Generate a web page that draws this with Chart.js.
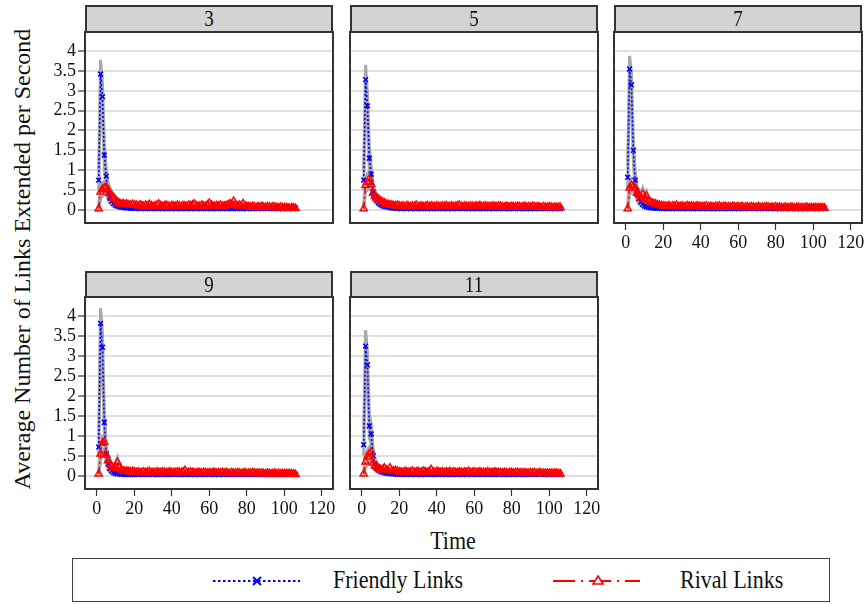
<!DOCTYPE html>
<html><head><meta charset="utf-8">
<script src="https://cdn.jsdelivr.net/npm/chart.js@4.4.1/dist/chart.umd.min.js"></script>
<style>
body{margin:0;width:868px;height:604px;background:#fff;position:relative;overflow:hidden;font-family:"Liberation Serif","DejaVu Serif",serif;color:#111;}
.hdr{position:absolute;background:#d3d3d3;border:2px solid #333;box-sizing:border-box;text-align:center;font-size:19px;}
.hdr span{display:inline-block;transform:scaleY(1.2);}
canvas{position:absolute;}
#ytitle{position:absolute;width:520px;height:30px;line-height:30px;left:-238px;top:244px;text-align:center;font-size:24px;transform:rotate(-90deg);}
#xtitle{position:absolute;left:403px;width:100px;top:526px;height:30px;line-height:30px;text-align:center;font-size:22px;transform:scaleY(1.15);}
#legend{position:absolute;left:72px;top:558px;width:758px;height:44px;border:1px solid #444;box-sizing:border-box;}
.ltxt{position:absolute;top:8px;font-size:22px;line-height:26px;transform:scaleY(1.15);}
</style></head>
<body>
<div id="ytitle">Average Number of Links Extended per Second</div>
<div id="xtitle">Time</div>
<div id="legend">
<svg width="758" height="44" style="position:absolute;left:-1px;top:-1px">
<line x1="141" y1="23" x2="228" y2="23" stroke="#0000ff" stroke-width="2" stroke-dasharray="2.5,2.5"/>
<line x1="181" y1="19" x2="189" y2="27" stroke="#0000ff" stroke-width="2"/>
<line x1="181" y1="27" x2="189" y2="19" stroke="#0000ff" stroke-width="2"/>
<line x1="481" y1="23" x2="568" y2="23" stroke="#ff0000" stroke-width="2" stroke-dasharray="22,6,2,6"/>
<polygon points="526,18 531,26 521,26" fill="#fff" stroke="#ff0000" stroke-width="1.6"/>
</svg>
<span class="ltxt" style="left:260px">Friendly Links</span>
<span class="ltxt" style="left:607px">Rival Links</span>
</div>
<script>
const panelLabels = ['3','5','7','9','11'];
const yTicks = [0,0.5,1,1.5,2,2.5,3,3.5,4];
const yTickLabels = ['0','.5','1','1.5','2','2.5','3','3.5','4'];
const xTicks = [0,20,40,60,80,100,120];
const time = [1,2,3,4,5,6,7,8,9,10,11,12,13,14,15,16,17,18,19,20,21,22,23,24,25,26,27,28,29,30,31,32,33,34,35,36,37,38,39,40,41,42,43,44,45,46,47,48,49,50,51,52,53,54,55,56,57,58,59,60,61,62,63,64,65,66,67,68,69,70,71,72,73,74,75,76,77,78,79,80,81,82,83,84,85,86,87,88,89,90,91,92,93,94,95,96,97,98,99,100,101,102,103,104,105,106];

// Friendly links (means)
const friendly3 = [0.75,3.42,2.85,1.38,0.85,0.42,0.3,0.22,0.16,0.12,0.1,0.08,0.07,0.06,0.06,0.05,0.05,0.04,0.05,0.04,
0.04,0.05,0.03,0.04,0.05,0.03,0.04,0.04,0.03,0.05,0.04,0.03,0.04,0.05,0.03,0.04,0.03,0.05,0.04,0.03,
0.04,0.03,0.05,0.04,0.03,0.04,0.05,0.03,0.04,0.03,0.04,0.05,0.03,0.04,0.04,0.03,0.05,0.04,0.03,0.04,
0.03,0.05,0.04,0.03,0.04,0.05,0.03,0.04,0.03,0.04,0.05,0.03,0.04,0.04,0.03,0.05,0.04,0.03,0.04,0.03,
0.05,0.04,0.03,0.04,0.05,0.03,0.04,0.03,0.04,0.05,0.03,0.04,0.04,0.03,0.05,0.04,0.03,0.04,0.03,0.05,
0.04,0.03,0.04,0.05,0.03,0.04];
const friendly5 = [0.75,3.28,2.62,1.3,0.9,0.45,0.32,0.24,0.18,0.14,0.11,0.09,0.08,0.07,0.06,0.05,0.05,0.04,0.04,0.04,
0.03,0.04,0.05,0.03,0.04,0.03,0.05,0.04,0.03,0.04,0.04,0.03,0.05,0.04,0.03,0.04,0.03,0.04,0.05,0.03,
0.04,0.04,0.03,0.05,0.04,0.03,0.04,0.03,0.05,0.04,0.03,0.04,0.04,0.03,0.05,0.04,0.03,0.04,0.03,0.05,
0.04,0.03,0.04,0.04,0.03,0.05,0.04,0.03,0.04,0.03,0.05,0.04,0.03,0.04,0.04,0.03,0.05,0.04,0.03,0.04,
0.03,0.04,0.05,0.03,0.04,0.04,0.03,0.05,0.04,0.03,0.04,0.03,0.05,0.04,0.03,0.04,0.04,0.03,0.05,0.04,
0.03,0.04,0.03,0.05,0.04,0.03];
const friendly7 = [0.82,3.55,3.15,1.5,0.75,0.42,0.28,0.2,0.14,0.1,0.08,0.07,0.06,0.05,0.05,0.04,0.04,0.05,0.04,0.03,
0.04,0.03,0.04,0.05,0.03,0.04,0.03,0.04,0.05,0.03,0.04,0.04,0.03,0.05,0.04,0.03,0.04,0.03,0.05,0.04,
0.03,0.04,0.04,0.03,0.05,0.04,0.03,0.04,0.03,0.05,0.04,0.03,0.04,0.04,0.03,0.05,0.04,0.03,0.04,0.03,
0.05,0.04,0.03,0.04,0.04,0.03,0.05,0.04,0.03,0.04,0.03,0.05,0.04,0.03,0.04,0.04,0.03,0.05,0.04,0.03,
0.04,0.03,0.05,0.04,0.03,0.04,0.04,0.03,0.05,0.04,0.03,0.04,0.03,0.05,0.04,0.03,0.04,0.04,0.03,0.05,
0.04,0.03,0.04,0.03,0.05,0.04];
const friendly9 = [0.72,3.82,3.22,1.34,0.55,0.3,0.18,0.12,0.08,0.06,0.05,0.05,0.04,0.04,0.03,0.04,0.03,0.04,0.03,0.03,
0.04,0.03,0.05,0.04,0.03,0.04,0.03,0.04,0.05,0.03,0.04,0.03,0.04,0.03,0.05,0.04,0.03,0.04,0.03,0.04,
0.05,0.03,0.04,0.03,0.04,0.04,0.03,0.05,0.04,0.03,0.04,0.03,0.04,0.05,0.03,0.04,0.03,0.04,0.04,0.03,
0.05,0.04,0.03,0.04,0.03,0.04,0.05,0.03,0.04,0.03,0.04,0.04,0.03,0.05,0.04,0.03,0.04,0.03,0.04,0.05,
0.03,0.04,0.03,0.04,0.04,0.03,0.05,0.04,0.03,0.04,0.03,0.04,0.05,0.03,0.04,0.03,0.04,0.04,0.03,0.05,
0.04,0.03,0.04,0.03,0.04,0.03];
const friendly11 = [0.78,3.25,2.78,1.25,1.05,0.5,0.3,0.2,0.15,0.12,0.1,0.08,0.07,0.06,0.06,0.05,0.05,0.04,0.04,0.04,
0.05,0.04,0.03,0.04,0.05,0.03,0.04,0.04,0.03,0.05,0.04,0.03,0.04,0.03,0.05,0.04,0.03,0.04,0.04,0.03,
0.05,0.04,0.03,0.04,0.03,0.05,0.04,0.03,0.04,0.04,0.03,0.05,0.04,0.03,0.04,0.03,0.05,0.04,0.03,0.04,
0.04,0.03,0.05,0.04,0.03,0.04,0.03,0.05,0.04,0.03,0.04,0.04,0.03,0.05,0.04,0.03,0.04,0.03,0.05,0.04,
0.03,0.04,0.04,0.03,0.05,0.04,0.03,0.04,0.03,0.05,0.04,0.03,0.04,0.04,0.03,0.05,0.04,0.03,0.04,0.03,
0.05,0.04,0.03,0.04,0.04,0.03];

// Rival links (means)
const rival3 = [0.03,0.45,0.52,0.55,0.58,0.5,0.42,0.35,0.3,0.25,0.2,0.17,0.15,0.16,0.14,0.15,0.13,0.12,0.14,0.12,
0.12,0.1,0.13,0.11,0.09,0.12,0.1,0.14,0.11,0.09,0.1,0.12,0.15,0.11,0.09,0.1,0.12,0.1,0.08,0.11,
0.1,0.09,0.12,0.1,0.08,0.11,0.1,0.09,0.12,0.1,0.13,0.15,0.11,0.09,0.1,0.12,0.1,0.09,0.13,0.17,
0.12,0.1,0.09,0.11,0.1,0.12,0.09,0.1,0.11,0.13,0.16,0.12,0.22,0.13,0.1,0.12,0.11,0.16,0.1,0.09,
0.08,0.07,0.09,0.08,0.06,0.08,0.07,0.09,0.07,0.06,0.08,0.07,0.06,0.08,0.07,0.06,0.05,0.07,0.06,0.05,
0.06,0.05,0.04,0.06,0.05,0.04];
const rival5 = [0.03,0.62,0.7,0.78,0.65,0.42,0.35,0.3,0.26,0.22,0.2,0.18,0.15,0.14,0.13,0.12,0.11,0.1,0.12,0.1,
0.09,0.1,0.08,0.11,0.09,0.08,0.1,0.09,0.12,0.08,0.09,0.1,0.08,0.09,0.11,0.08,0.1,0.09,0.08,0.1,
0.09,0.08,0.1,0.09,0.11,0.08,0.09,0.1,0.08,0.09,0.1,0.12,0.09,0.08,0.1,0.09,0.08,0.1,0.09,0.08,
0.1,0.09,0.11,0.08,0.09,0.1,0.08,0.09,0.08,0.1,0.09,0.08,0.1,0.09,0.08,0.07,0.09,0.08,0.07,0.09,
0.08,0.07,0.09,0.08,0.07,0.08,0.09,0.07,0.08,0.07,0.09,0.08,0.07,0.08,0.07,0.06,0.08,0.07,0.06,0.08,
0.07,0.06,0.07,0.06,0.07,0.06];
const rival7 = [0.03,0.55,0.62,0.6,0.55,0.42,0.38,0.3,0.4,0.28,0.35,0.24,0.2,0.18,0.16,0.15,0.13,0.12,0.11,0.1,
0.1,0.09,0.11,0.08,0.1,0.09,0.12,0.08,0.09,0.1,0.08,0.09,0.11,0.08,0.1,0.09,0.08,0.1,0.09,0.08,
0.09,0.08,0.1,0.07,0.09,0.08,0.07,0.09,0.08,0.1,0.07,0.08,0.09,0.07,0.08,0.07,0.09,0.08,0.07,0.08,
0.07,0.09,0.06,0.08,0.07,0.06,0.08,0.07,0.06,0.07,0.08,0.06,0.07,0.06,0.08,0.07,0.06,0.07,0.06,0.08,
0.06,0.07,0.06,0.05,0.07,0.06,0.05,0.07,0.06,0.05,0.06,0.07,0.05,0.06,0.05,0.07,0.06,0.05,0.06,0.05,
0.06,0.05,0.06,0.05,0.06,0.05];
const rival9 = [0.05,0.55,0.82,0.85,0.52,0.38,0.3,0.22,0.18,0.22,0.34,0.2,0.15,0.13,0.12,0.12,0.11,0.1,0.11,0.1,
0.09,0.1,0.08,0.09,0.1,0.08,0.09,0.11,0.08,0.09,0.08,0.1,0.09,0.08,0.1,0.09,0.08,0.09,0.1,0.08,
0.09,0.08,0.1,0.09,0.08,0.1,0.14,0.09,0.08,0.1,0.09,0.08,0.07,0.09,0.08,0.07,0.09,0.08,0.07,0.08,
0.07,0.09,0.08,0.07,0.08,0.07,0.09,0.07,0.08,0.07,0.06,0.08,0.07,0.06,0.08,0.07,0.06,0.07,0.08,0.06,
0.07,0.06,0.08,0.07,0.06,0.07,0.06,0.07,0.06,0.05,0.07,0.06,0.05,0.06,0.07,0.05,0.06,0.05,0.06,0.05,
0.06,0.05,0.06,0.05,0.05,0.04];
const rival11 = [0.05,0.35,0.48,0.55,0.6,0.32,0.25,0.22,0.18,0.16,0.15,0.2,0.15,0.14,0.2,0.13,0.12,0.14,0.11,0.1,
0.1,0.09,0.11,0.1,0.09,0.1,0.12,0.09,0.1,0.11,0.09,0.1,0.12,0.1,0.09,0.11,0.16,0.1,0.09,0.11,
0.1,0.09,0.1,0.08,0.1,0.09,0.11,0.08,0.1,0.09,0.08,0.1,0.09,0.08,0.1,0.09,0.11,0.08,0.09,0.1,
0.08,0.09,0.1,0.08,0.09,0.08,0.1,0.09,0.08,0.09,0.1,0.08,0.09,0.08,0.07,0.09,0.08,0.07,0.09,0.08,
0.07,0.08,0.09,0.07,0.08,0.07,0.08,0.07,0.06,0.08,0.07,0.08,0.06,0.07,0.08,0.06,0.07,0.06,0.07,0.06,
0.07,0.06,0.07,0.06,0.06,0.05];

// Confidence bounds (visible part, early periods)
const friendlyUpper3 = [1.0,3.78,3.2,1.7,1.05,0.62,0.44,0.32,0.24,0.18,0.15,0.12];
const friendlyLower3 = [0.5,3.05,2.5,1.05,0.65,0.25,0.17,0.12,0.09,0.07,0.05,0.04];
const rivalUpper3 = [0.12,0.62,0.68,0.72,0.8,0.68,0.56,0.46,0.4,0.33,0.27,0.22];
const rivalLower3 = [0,0.28,0.35,0.38,0.38,0.32,0.28,0.24,0.2,0.17,0.13,0.12];
const friendlyUpper5 = [1.0,3.65,2.95,1.6,1.1,0.65,0.45,0.34,0.26,0.2,0.16,0.13];
const friendlyLower5 = [0.5,2.9,2.3,1.0,0.7,0.25,0.19,0.14,0.1,0.08,0.06,0.05];
const rivalUpper5 = [0.12,0.8,0.9,0.98,0.85,0.58,0.48,0.4,0.35,0.3,0.27,0.24];
const rivalLower5 = [0,0.45,0.5,0.58,0.45,0.26,0.22,0.2,0.17,0.14,0.13,0.12];
const friendlyUpper7 = [1.1,3.88,3.45,1.8,0.95,0.6,0.42,0.3,0.22,0.17,0.13,0.11];
const friendlyLower7 = [0.55,3.2,2.85,1.2,0.55,0.25,0.15,0.1,0.07,0.05,0.04,0.03];
const rivalUpper7 = [0.12,0.72,0.8,0.78,0.72,0.58,0.52,0.42,0.55,0.4,0.48,0.34];
const rivalLower7 = [0,0.38,0.44,0.42,0.38,0.27,0.24,0.18,0.25,0.16,0.22,0.14];
const friendlyUpper9 = [0.95,4.2,3.6,1.65,0.78,0.45,0.3,0.2,0.14,0.1,0.09,0.08];
const friendlyLower9 = [0.5,3.45,2.85,1.05,0.35,0.15,0.08,0.05,0.03,0.02,0.02,0.02];
const rivalUpper9 = [0.14,0.72,1.0,1.02,0.7,0.52,0.42,0.32,0.27,0.32,0.46,0.3];
const rivalLower9 = [0,0.38,0.62,0.68,0.35,0.24,0.18,0.13,0.1,0.13,0.22,0.1];
const friendlyUpper11 = [1.05,3.65,3.1,1.55,1.3,0.7,0.45,0.32,0.24,0.19,0.15,0.12];
const friendlyLower11 = [0.5,2.85,2.45,0.95,0.8,0.3,0.16,0.1,0.07,0.05,0.05,0.04];
const rivalUpper11 = [0.13,0.52,0.65,0.72,0.78,0.45,0.36,0.32,0.27,0.24,0.22,0.28];
const rivalLower11 = [0,0.2,0.3,0.38,0.42,0.2,0.15,0.12,0.1,0.09,0.08,0.12];

const series = [
  {f:friendly3, r:rival3, fu:friendlyUpper3, fl:friendlyLower3, ru:rivalUpper3, rl:rivalLower3},
  {f:friendly5, r:rival5, fu:friendlyUpper5, fl:friendlyLower5, ru:rivalUpper5, rl:rivalLower5},
  {f:friendly7, r:rival7, fu:friendlyUpper7, fl:friendlyLower7, ru:rivalUpper7, rl:rivalLower7},
  {f:friendly9, r:rival9, fu:friendlyUpper9, fl:friendlyLower9, ru:rivalUpper9, rl:rivalLower9},
  {f:friendly11, r:rival11, fu:friendlyUpper11, fl:friendlyLower11, ru:rivalUpper11, rl:rivalLower11}
];

// layout of panels (pixels)
const boxes = [
  {l:85, r:333, ht:5, t:32, b:223, showY:true, showX:false},
  {l:350, r:598, ht:5, t:32, b:223, showY:false, showX:false},
  {l:614, r:862, ht:5, t:32, b:223, showY:false, showX:true},
  {l:85, r:333, ht:271, t:297, b:489, showY:true, showX:true},
  {l:350, r:598, ht:271, t:297, b:489, showY:false, showX:true}
];
const AXW = 70, AXH = 50, PADR = 26, PADT = 20;

const framePlugin = {
  id:'frame',
  afterDraw(chart){
    const {ctx, chartArea:a} = chart;
    ctx.save();
    ctx.strokeStyle = '#333';
    ctx.lineWidth = 2;
    ctx.strokeRect(a.left, a.top, a.right - a.left, a.bottom - a.top);
    ctx.restore();
  }
};

const toXY = arr => arr.map((v,i) => ({x: time[i], y: v}));
const FONT = "'Liberation Serif','DejaVu Serif',serif";

boxes.forEach((bx, i) => {
  const h = document.createElement('div');
  h.className = 'hdr';
  h.style.left = bx.l + 'px';
  h.style.top = bx.ht + 'px';
  h.style.width = (bx.r - bx.l) + 'px';
  h.style.height = (bx.t - bx.ht + 1) + 'px';
  h.style.lineHeight = (bx.t - bx.ht - 3) + 'px';
  const sp = document.createElement('span');
  sp.textContent = panelLabels[i];
  h.appendChild(sp);
  document.body.appendChild(h);

  const c = document.createElement('canvas');
  const W = AXW + (bx.r - bx.l) + PADR, H = PADT + (bx.b - bx.t) + AXH;
  c.width = W; c.height = H;
  c.style.width = W + 'px'; c.style.height = H + 'px';
  c.style.left = (bx.l - AXW) + 'px';
  c.style.top = (bx.t - PADT) + 'px';
  document.body.appendChild(c);

  const s = series[i];
  const grayDs = arr => ({data: toXY(arr), borderColor:'#a8a8a8', borderWidth:3, pointRadius:0, order:3, tension:0});
  new Chart(c, {
    type:'line',
    data:{datasets:[
      grayDs(s.fu), grayDs(s.fl), grayDs(s.ru), grayDs(s.rl),
      {label:'Friendly Links', data: toXY(s.f), borderColor:'#0000ff', borderWidth:1.6, borderDash:[2,2],
       pointStyle:'crossRot', pointRadius:3.4, pointBorderColor:'#0000ff', pointBorderWidth:1.6, pointBackgroundColor:'#0000ff', order:1, tension:0},
      {label:'Rival Links', data: toXY(s.r), borderColor:'#ff0000', borderWidth:1.6, borderDash:[7,3,2,3],
       pointStyle:'triangle', pointRadius:4.2, pointBorderColor:'#ff0000', pointBorderWidth:1.4, pointBackgroundColor:'rgba(255,255,255,0)', order:0, tension:0}
    ]},
    options:{
      responsive:false, animation:false, devicePixelRatio:1,
      layout:{padding:{left:0, right:PADR, top:PADT, bottom:0}},
      plugins:{legend:{display:false}, tooltip:{enabled:false}},
      scales:{
        x:{type:'linear', min:-6.3, max:126, bounds:'data',
           afterBuildTicks(sc){ sc.ticks = xTicks.map(v => ({value:v})); },
           afterFit(sc){ sc.height = AXH; },
           border:{display:false},
           grid:{display:bx.showX, drawOnChartArea:false, drawTicks:true, tickLength:7, tickColor:'#333', tickWidth:1.2},
           ticks:{display:bx.showX, autoSkip:false, maxRotation:0, padding:2, color:'#111', font:{family:FONT, size:18},
                  callback:v => String(v)}
        },
        y:{type:'linear', min:-0.33, max:4.48, bounds:'data',
           afterBuildTicks(sc){ sc.ticks = yTicks.map(v => ({value:v})); },
           afterFit(sc){ sc.width = AXW; },
           border:{display:false},
           grid:{color:'#e0e0e0', lineWidth:2, drawTicks:bx.showY, tickLength:7, tickColor:'#333', tickWidth:1.2},
           ticks:{display:bx.showY, autoSkip:false, padding:2, color:'#111', font:{family:FONT, size:18},
                  callback:v => { const k = yTicks.indexOf(v); return k >= 0 ? yTickLabels[k] : ''; }}
        }
      }
    },
    plugins:[framePlugin]
  });
});
</script>
</body></html>
